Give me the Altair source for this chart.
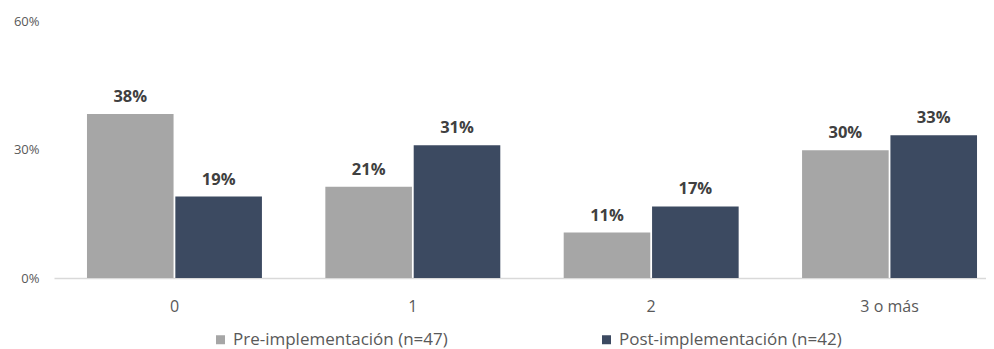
import altair as alt
import pandas as pd

categories = ["0", "1", "2", "3 o más"]
series = ["Pre-implementación (n=47)", "Post-implementación (n=42)"]
pre_values = [0.383, 0.213, 0.106, 0.298]
post_values = [0.190, 0.310, 0.167, 0.333]
colors = ["#a6a6a6", "#3c4a61"]

rows = []
for c, v in zip(categories, pre_values):
    rows.append({"cat": c, "serie": series[0], "val": v})
for c, v in zip(categories, post_values):
    rows.append({"cat": c, "serie": series[1], "val": v})
df = pd.DataFrame(rows)

FONT = "Open Sans"

x = alt.X("cat:N", sort=categories, title=None,
          scale=alt.Scale(paddingInner=0.266, paddingOuter=0.088, align=0.786),
          axis=alt.Axis(labelAngle=0, labelFontSize=16, labelColor="#595959",
                        labelPadding=20, ticks=False, domainColor="#d9d9d9",
                        domainWidth=1.5, labelFont=FONT))
xoff = alt.XOffset("serie:N", sort=series, scale=alt.Scale(paddingInner=0.02))
y = alt.Y("val:Q", title=None,
          scale=alt.Scale(domain=[0, 0.6]),
          axis=alt.Axis(values=[0, 0.3, 0.6], format=".0%", grid=False,
                        domain=False, ticks=False, labelFontSize=13,
                        labelColor="#595959", labelPadding=15, labelFont=FONT))

bars = alt.Chart(df).mark_bar().encode(
    x=x, xOffset=xoff, y=y,
    color=alt.Color("serie:N", sort=series,
                    scale=alt.Scale(domain=series, range=colors),
                    legend=alt.Legend(title=None, orient="none", direction="horizontal",
                                      legendX=158, legendY=310, symbolType="square",
                                      symbolSize=81, symbolStrokeWidth=0,
                                      labelFontSize=17, labelColor="#595959",
                                      labelFont=FONT, columnPadding=150,
                                      labelLimit=400)),
)

labels = alt.Chart(df).mark_text(baseline="bottom", dy=-9, fontSize=16.5,
                                  fontWeight="bold", color="#404040", font=FONT).encode(
    x=x, xOffset=xoff, y=y,
    text=alt.Text("val:Q", format=".0%"),
)

chart = (bars + labels).properties(
    width=932, height=257,
    padding={"left": 5, "top": 7, "right": 0, "bottom": 5},
).configure_view(stroke=None)

chart.save("out.html", embed_options={"renderer": "svg", "actions": False})
